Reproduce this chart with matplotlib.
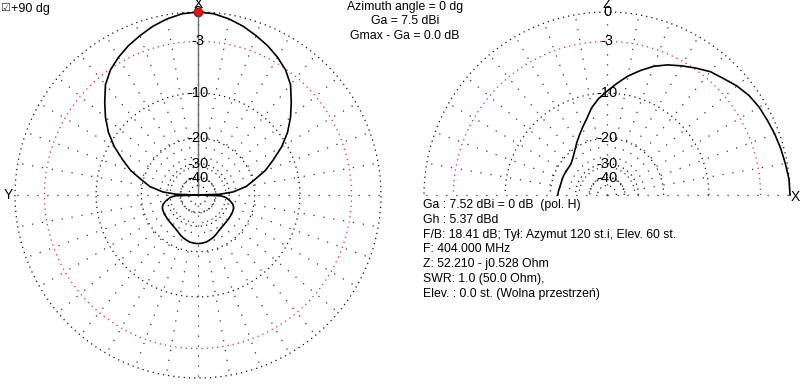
import numpy as np
import matplotlib
matplotlib.use("Agg")
import matplotlib.pyplot as plt

# azimuth pattern (deg clockwise from X, dB relative to max)
az_deg = [0, 5, 10, 15, 20, 25, 30, 35, 40, 45, 50, 55, 60, 65, 70, 75, 80, 85, 88, 90,
          92, 95, 100, 105, 110, 115, 120, 125, 130, 135, 140, 145, 150, 155, 160, 165, 170, 175, 180,
          185, 190, 195, 200, 205, 210, 215, 220, 225, 230, 235, 240, 245, 250, 255, 260, 265, 268, 270,
          272, 275, 280, 285, 290, 295, 300, 305, 310, 315, 320, 325, 330, 335, 340, 345, 350, 355, 360]
az_db = [0.0, -0.1, -0.4, -0.8, -1.3, -1.8, -2.4, -3.1, -4.1, -5.6, -7.1, -8.8, -10.9, -13.5, -16.0, -19.5, -22.5, -28.0, -36.0, -99,
         -35.5, -32.0, -29.5, -27.6, -26.8, -26.6, -26.5, -26.5, -26.4, -26.3, -26.1, -25.8, -25.3, -24.6, -23.9, -23.4, -22.9, -22.7, -22.6,
         -22.7, -22.9, -23.4, -23.9, -24.6, -25.3, -25.8, -26.1, -26.3, -26.4, -26.5, -26.5, -26.6, -26.8, -27.6, -29.5, -32.0, -35.5, -99,
         -36.0, -28.0, -22.5, -19.5, -16.0, -13.5, -10.9, -8.8, -7.1, -5.6, -4.1, -3.1, -2.4, -1.8, -1.3, -0.8, -0.4, -0.1, 0.0]

# elevation pattern (deg from X towards Z)
el_deg = [0, 5, 10, 15, 20, 25, 30, 35, 40, 45, 50, 55, 60, 65, 70, 75, 80, 85, 90,
          95, 100, 105, 110, 115, 120, 125, 130, 135, 140, 145, 150, 155, 160, 165, 170, 175, 180]
el_db = [0.0, -0.03, -0.18, -0.3, -0.43, -0.58, -0.7, -0.92, -1.3, -1.8, -2.2, -2.85, -3.5, -4.15, -4.95, -6.0, -7.1, -8.4, -9.7,
         -10.9, -12.4, -14.4, -16.0, -17.5, -18.9, -20.3, -21.5, -22.4, -23.0, -23.1, -23.1, -23.0, -23.0, -23.0, -22.9, -22.6, -22.4]

ring_db = [0, -3, -10, -20, -30, -40, -50]
ring_labels = ["0", "-3", "-10", "-20", "-30", "-40"]

info_lines = ["Ga : 7.52 dBi = 0 dB  (pol. H)",
              "Gh : 5.37 dBd",
              "F/B: 18.41 dB; Tył: Azymut 120 st.i, Elev. 60 st.",
              "F: 404.000 MHz",
              "Z: 52.210 - j0.528 Ohm",
              "SWR: 1.0 (50.0 Ohm),",
              "Elev. : 0.0 st. (Wolna przestrzeń)"]
head_lines = ["Azimuth angle = 0 dg", "Ga = 7.5 dBi", "Gmax - Ga = 0.0 dB"]

plt.rcParams['font.family'] = ['Liberation Sans', 'DejaVu Sans']


def fwd(d):
    return 0.89 ** (-np.asarray(d, dtype=float) / 2)


def inv(r):
    return -2 * np.log(np.asarray(r, dtype=float)) / np.log(0.89)


fig = plt.figure(figsize=(8, 3.86), dpi=100)
W, H = 800, 386
R = 183


def make_ax(cx):
    ax = fig.add_axes([(cx - R) / W, (H - 195 - R) / H, 2 * R / W, 2 * R / H], projection='polar')
    ax.set_rscale('function', functions=(fwd, inv))
    ax.set_rlim(-99, 0)
    ax.grid(False)
    ax.set_xticks([])
    ax.set_yticks([])
    ax.spines['polar'].set_visible(False)
    ax.set_facecolor('none')
    return ax


def draw_grid(ax, t0, t1):
    th = np.radians(np.arange(t0, t1 + 1, 1))
    for d in ring_db:
        col = '#e8262f' if d == -3 else '#111111'
        ax.plot(th, [d] * len(th), color=col, lw=0.9, ls=(0, (1, 3.2)), clip_on=False)
    for a in range(t0, t1 + 1, 10):
        lo = -99 if a % 90 == 0 else -40
        ax.plot([np.radians(a)] * 2, [lo, 0], color='#333333', lw=0.9, ls=(0, (1, 7)), clip_on=False)


# left: azimuth
axl = make_ax(198)
axl.set_theta_zero_location('N')
axl.set_theta_direction(-1)
draw_grid(axl, 0, 360)
axl.plot([0, 0], [-99, 0], color='#6f6f6f', lw=1.0, clip_on=False)
axl.plot(np.radians(az_deg), az_db, color='black', lw=1.2, clip_on=False)
for d, lab in zip(ring_db, ring_labels):
    axl.text(0, d, lab, ha='center', va='center', fontsize=10.5, zorder=5)
axl.plot([0], [0], 'o', color='#ee1111', mec='#882222', ms=6, clip_on=False, zorder=6)

# right: elevation
axr = make_ax(607)
axr.set_theta_zero_location('E')
draw_grid(axr, 0, 180)
axr.plot(np.radians(el_deg), el_db, color='black', lw=1.2, clip_on=False)
for d, lab in zip(ring_db, ring_labels):
    axr.text(np.pi / 2, d, lab, ha='center', va='center', fontsize=10.5, zorder=5)


def px(x, y):
    return x / W, 1 - y / H


fig.text(*px(198, 4), "X", ha='center', va='center', fontsize=10)
fig.text(*px(607, 4), "Z", ha='center', va='center', fontsize=10)
fig.text(*px(8, 195), "Y", ha='center', va='center', fontsize=10)
fig.text(*px(795, 197), "X", ha='center', va='center', fontsize=10)
fig.text(*px(0, 8), "\u2611", ha='left', va='center', fontsize=8, family='DejaVu Sans', color='#333333')
fig.text(*px(11, 9), "+90 dg", ha='left', va='center', fontsize=9)

for i, s in enumerate(head_lines):
    fig.text(*px(405, 7 + 14.5 * i), s, ha='center', va='center', fontsize=8.8)

for i, s in enumerate(info_lines):
    fig.text(*px(423, 205 + 14.8 * i), s, ha='left', va='center', fontsize=8.8)

fig.savefig('out.png', dpi=100)
